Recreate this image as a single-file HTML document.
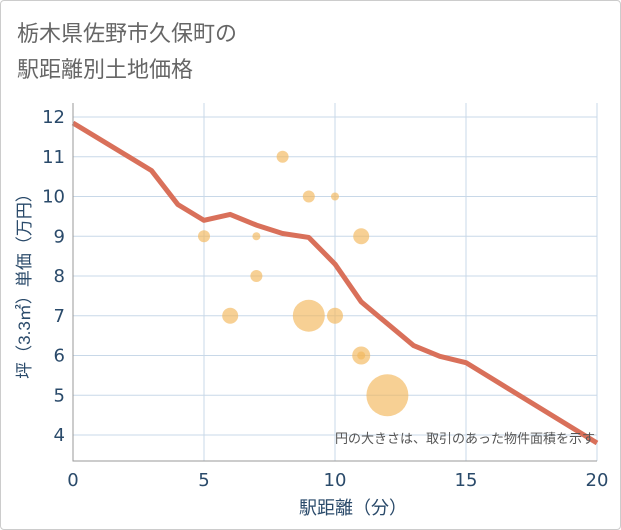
<!DOCTYPE html>
<html><head><meta charset="utf-8"><style>
body{margin:0;background:#fff;font-family:"Liberation Sans","Noto Sans CJK JP",sans-serif}
#card{position:absolute;left:0;top:0;width:619px;height:528px;border:1px solid #ccc;border-radius:4px}
</style></head><body>
<div id="card"></div>
<svg id="c" width="621" height="530" style="position:absolute;left:0;top:0" font-family="Liberation Sans, Noto Sans CJK JP, sans-serif">
<text x="17" y="41" font-size="22" fill="#666">栃木県佐野市久保町の</text>
<text x="17" y="77" font-size="22" fill="#666">駅距離別土地価格</text>
<g id="grid"></g><g id="bub"></g><g id="ln"></g><g id="ax"></g>
<text x="353" y="514" font-size="18" fill="#2a4a6a" text-anchor="middle">駅距離（分）</text>
<text transform="translate(30,282) rotate(-90)" font-size="17" fill="#2a4a6a" text-anchor="middle">坪（3.3㎡）単価（万円）</text>
<text x="595" y="443" font-size="13" fill="#555" text-anchor="end">円の大きさは、取引のあった物件面積を示す</text>
</svg>
<script>
const xTicks=[0,5,10,15,20];
const yTicks=[4,5,6,7,8,9,10,11,12];
const lineX=[0,3,4,5,6,7,8,9,10,11,12,13,14,15,20];
const lineY=[11.85,10.65,9.8,9.4,9.55,9.28,9.07,8.97,8.3,7.35,6.8,6.25,5.98,5.82,3.8];
const bubX=[8,9,10,5,7,11,7,6,9,10,11,11,12];
const bubY=[11,10,10,9,9,9,8,7,7,7,6,6,5];
const bubR=[6,6,4,6,4,8,6,8,16,8,9,4,21];
const L=73,R=597,T=103,B=461;
const sx=v=>L+(v/20)*(R-L);
const sy=v=>117+(12-v)*39.75;
const NS='http://www.w3.org/2000/svg';
function mk(p,t,a){const e=document.createElementNS(NS,t);for(const k in a)e.setAttribute(k,a[k]);document.getElementById(p).appendChild(e);return e;}
xTicks.forEach(v=>{const e=mk('grid','line',{x1:sx(v),x2:sx(v),y1:T,y2:B,stroke:'#c8d8e8'});


const t=mk('ax','text',{x:sx(v),y:486,'font-size':18,'font-family':'DejaVu Sans, sans-serif',fill:'#2a4a6a','text-anchor':'middle'});t.textContent=v;

});
yTicks.forEach(v=>{const e=mk('grid','line',{x1:L,x2:R,y1:sy(v),y2:sy(v),stroke:'#c8d8e8'});


const t=mk('ax','text',{x:65,y:sy(v)+6,'font-size':18,'font-family':'DejaVu Sans, sans-serif',fill:'#2a4a6a','text-anchor':'end'});t.textContent=v;

});
const fr=mk('ax','path',{d:`M${L} ${T}V${B}H${R}`,fill:'none',stroke:'#999'});


bubX.forEach((x,i)=>{const c=mk('bub','circle',{cx:sx(x),cy:sy(bubY[i]),r:bubR[i],fill:'#f2b75a','fill-opacity':0.65});

});
const pl=mk('ln','polyline',{points:lineX.map((x,i)=>sx(x)+','+sy(lineY[i])).join(' '),fill:'none',stroke:'#d9705a','stroke-width':5,'stroke-linejoin':'round'});


</script>
</body></html>
